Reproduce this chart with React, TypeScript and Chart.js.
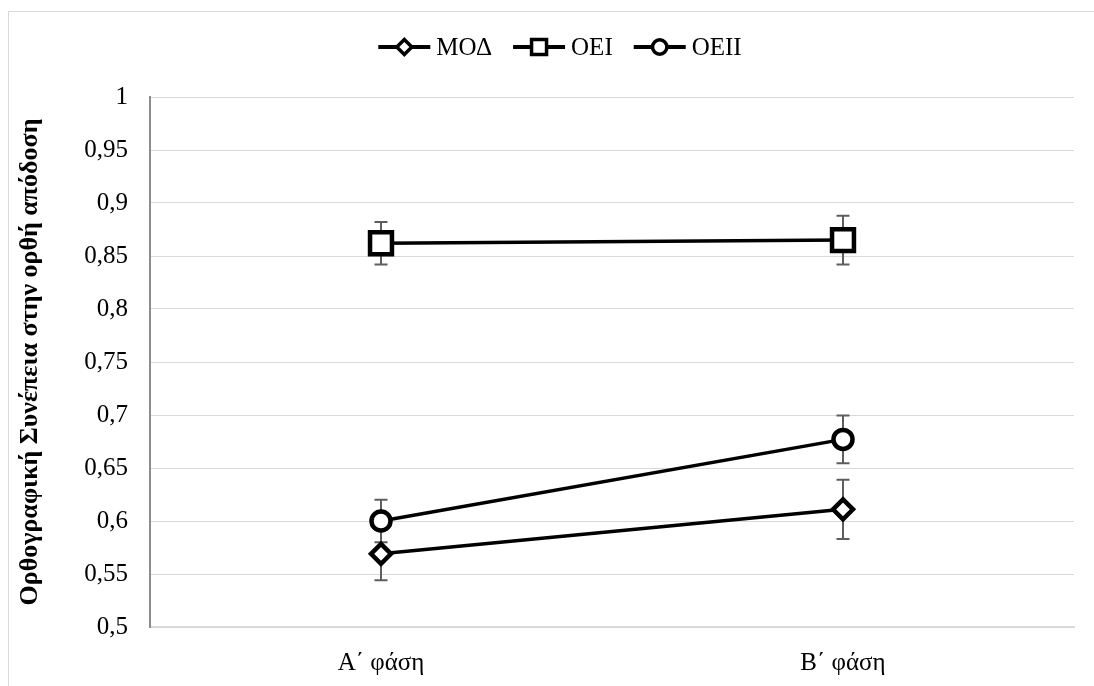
import React, { useEffect, useRef } from 'react';
import { Chart, registerables } from 'chart.js';

Chart.register(...registerables);

const categories = ['Α΄ φάση', 'Β΄ φάση'];
const seriesNames = ['ΜΟΔ', 'ΟΕΙ', 'ΟΕΙΙ'];
const modValues = [0.569, 0.611];
const modErrors = [0.025, 0.028];
const oeiValues = [0.862, 0.865];
const oeiErrors = [0.02, 0.023];
const oeiiValues = [0.6, 0.677];
const oeiiErrors = [0.02, 0.0225];
const yMin = 0.5;
const yMax = 1;
const yStep = 0.05;
const yTitle = 'Ορθογραφική Συνέπεια στην ορθή απόδοση';

const FONT = 'Liberation Serif';

const errorBarPlugin = {
  id: 'errorBars',
  beforeDatasetsDraw(chart: any) {
    const ctx = chart.ctx;
    const ys = chart.scales.y;
    chart.data.datasets.forEach((ds: any, i: number) => {
      const meta = chart.getDatasetMeta(i);
      meta.data.forEach((pt: any, j: number) => {
        const v = ds.data[j];
        const e = ds.errors[j];
        const yt = ys.getPixelForValue(v + e);
        const yb = ys.getPixelForValue(v - e);
        ctx.save();
        ctx.strokeStyle = '#5e5e5e';
        ctx.lineWidth = 2;
        ctx.beginPath();
        ctx.moveTo(pt.x, yt);
        ctx.lineTo(pt.x, yb);
        ctx.moveTo(pt.x - 6.5, yt);
        ctx.lineTo(pt.x + 6.5, yt);
        ctx.moveTo(pt.x - 6.5, yb);
        ctx.lineTo(pt.x + 6.5, yb);
        ctx.stroke();
        ctx.restore();
      });
    });
  },
};

const legendPlugin = {
  id: 'customLegend',
  afterDraw(chart: any) {
    const ctx = chart.ctx;
    ctx.save();
    ctx.font = `25px ${FONT}`;
    const lineLen = 52;
    const textGap = 6;
    const itemGap = 21;
    const items = chart.data.datasets.map((ds: any) => ({
      label: ds.label,
      style: ds.pointStyle,
      w: lineLen + textGap + ctx.measureText(ds.label).width,
    }));
    const total = items.reduce((s: number, it: any) => s + it.w, 0) + itemGap * (items.length - 1);
    let x = chart.width / 2 + 8.5 - total / 2;
    const y = 35;
    items.forEach((it: any) => {
      ctx.strokeStyle = '#000';
      ctx.lineWidth = 4;
      ctx.beginPath();
      ctx.moveTo(x, y);
      ctx.lineTo(x + lineLen, y);
      ctx.stroke();
      const cx = x + lineLen / 2;
      ctx.fillStyle = '#fff';
      ctx.lineWidth = 3.5;
      ctx.beginPath();
      if (it.style === 'rectRot') {
        ctx.moveTo(cx - 7.5, y);
        ctx.lineTo(cx, y - 7.5);
        ctx.lineTo(cx + 7.5, y);
        ctx.lineTo(cx, y + 7.5);
        ctx.closePath();
      } else if (it.style === 'rect') {
        ctx.rect(cx - 7.5, y - 7.5, 15, 15);
      } else {
        ctx.arc(cx, y, 7.2, 0, Math.PI * 2);
      }
      ctx.fill();
      ctx.stroke();
      ctx.fillStyle = '#000';
      ctx.textAlign = 'left';
      ctx.textBaseline = 'middle';
      ctx.fillText(it.label, x + lineLen + textGap, y + 1);
      x += it.w + itemGap;
    });
    ctx.restore();
  },
};

export default function App() {
  const ref = useRef<HTMLCanvasElement | null>(null);
  useEffect(() => {
    if (!ref.current) return;
    const common = {
      borderColor: '#000',
      borderWidth: 3.5,
      pointBackgroundColor: '#fff',
      pointBorderColor: '#000',
      pointBorderWidth: 4.5,
      fill: false,
      tension: 0,
    };
    const chart = new Chart(ref.current, {
      type: 'line',
      data: {
        labels: categories,
        datasets: [
          { ...common, label: seriesNames[0], data: modValues, errors: modErrors, pointStyle: 'rectRot', pointRadius: 10 } as any,
          { ...common, label: seriesNames[1], data: oeiValues, errors: oeiErrors, pointStyle: 'rect', pointRadius: 15.5 } as any,
          { ...common, label: seriesNames[2], data: oeiiValues, errors: oeiiErrors, pointStyle: 'circle', pointRadius: 9.5 } as any,
        ],
      },
      options: {
        animation: false,
        responsive: false,
        events: [],
        layout: { padding: { left: 0, top: 85, right: 19, bottom: 0 } },
        plugins: {
          legend: { display: false },
          tooltip: { enabled: false },
        },
        scales: {
          x: {
            offset: true,
            grid: { display: false, drawTicks: false },
            border: { display: true, color: '#d9d9d9', width: 2 },
            ticks: { color: '#000', font: { family: FONT, size: 25 }, padding: 21 },
            afterFit: (s: any) => { s.height = 59; },
          },
          y: {
            min: yMin,
            max: yMax,
            grid: { color: '#d9d9d9', lineWidth: 1, drawTicks: false },
            border: { display: true, color: '#8c8c8c', width: 2 },
            ticks: {
              stepSize: yStep,
              color: '#000',
              padding: 22,
              font: { family: FONT, size: 25 },
              callback: (v: any) => String(Math.round(Number(v) * 100) / 100).replace('.', ','),
            },
            title: {
              display: true,
              text: yTitle,
              color: '#000',
              font: { family: FONT, size: 26, weight: 'bold' },
              padding: { top: 6, bottom: 0 },
            },
            afterFit: (s: any) => { s.width = 141; },
          },
        },
      },
      plugins: [errorBarPlugin, legendPlugin],
    } as any);
    return () => chart.destroy();
  }, []);
  return (
    <div
      style={{
        position: 'absolute',
        left: 8,
        top: 11,
        width: 1086,
        height: 675,
        borderTop: '1px solid #d9d9d9',
        borderLeft: '1px solid #d9d9d9',
        background: '#fff',
        overflow: 'hidden',
      }}
    >
      <canvas ref={ref} width={1085} height={674} style={{ display: 'block', width: 1085, height: 674 }} />
    </div>
  );
}
